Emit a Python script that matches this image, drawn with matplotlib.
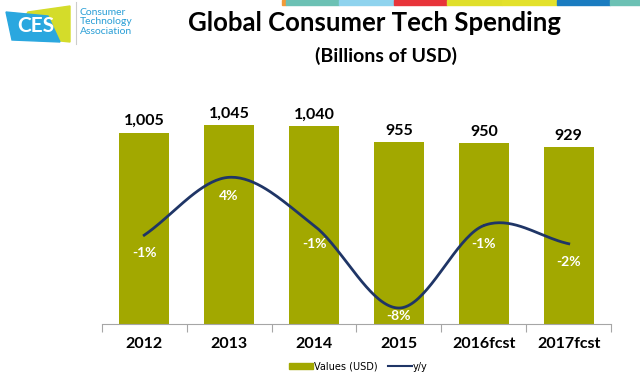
import numpy as np
import matplotlib
matplotlib.use("Agg")
import matplotlib.pyplot as plt
from matplotlib.patches import Polygon, Rectangle
from matplotlib.lines import Line2D
from matplotlib.patches import Patch

years = ["2012", "2013", "2014", "2015", "2016fcst", "2017fcst"]
values = [1005, 1045, 1040, 955, 950, 929]
value_labels = ["1,005", "1,045", "1,040", "955", "950", "929"]
yoy = [-1.4, 4.0, -0.5, -8.2, -0.5, -2.2]
yoy_labels = ["-1%", "4%", "-1%", "-8%", "-1%", "-2%"]

BAR = "#a2a800"
LINE = "#1f3566"
FONT = "Lato"


def smooth(xs, ys, n=40):
    # catmull-rom style smoothing like excel's smoothed line
    xs = np.asarray(xs, float)
    ys = np.asarray(ys, float)
    px = np.concatenate([[2 * xs[0] - xs[1]], xs, [2 * xs[-1] - xs[-2]]])
    py = np.concatenate([[2 * ys[0] - ys[1]], ys, [2 * ys[-1] - ys[-2]]])
    ox, oy = [], []
    t = np.linspace(0, 1, n)
    for i in range(1, len(px) - 2):
        p0, p1, p2, p3 = px[i - 1], px[i], px[i + 1], px[i + 2]
        q0, q1, q2, q3 = py[i - 1], py[i], py[i + 1], py[i + 2]
        for a, b, c, d, out in ((p0, p1, p2, p3, ox), (q0, q1, q2, q3, oy)):
            out.extend(0.5 * (2 * b + (-a + c) * t + (2 * a - 5 * b + 4 * c - d) * t ** 2
                              + (-a + 3 * b - 3 * c + d) * t ** 3))
    return np.array(ox), np.array(oy)


fig = plt.figure(figsize=(6.4, 3.76), dpi=100)
ax = fig.add_axes([0.159, 0.138, 0.796, 0.607])
x = np.arange(len(years))
ax.bar(x, values, width=0.59, color=BAR, zorder=2)
ax.set_xlim(-0.5, len(years) - 0.5)
ax.set_ylim(0, 1200)
for xi, v, lab in zip(x, values, value_labels):
    ax.text(xi, v + 25, lab, ha="center", va="bottom", fontsize=11.5,
            fontweight="bold", family=FONT)

for s in ["top", "right", "left"]:
    ax.spines[s].set_visible(False)
ax.spines["bottom"].set_color("#a6a6a6")
ax.set_yticks([])
ax.set_xticks(np.arange(-0.5, len(years), 1.0))
ax.set_xticklabels([])
ax.tick_params(axis="x", length=6, color="#a6a6a6")
for xi, lab in zip(x, years):
    ax.text(xi, -0.085, lab, transform=ax.get_xaxis_transform(), ha="center",
            va="center", fontsize=11.5, fontweight="bold", family=FONT)

ax2 = ax.twinx()
ax2.set_ylim(-9.7, 11.6)
ax2.set_yticks([])
for s in ax2.spines.values():
    s.set_visible(False)
sx, sy = smooth(x, yoy)
ax2.plot(sx, sy, color=LINE, lw=2, zorder=3)
for xi, v, lab in zip(x, yoy, yoy_labels):
    ax2.text(xi, max(v - 1.7, -8.9), lab, ha="center", va="center", color="white",
             fontsize=10, fontweight="bold", family=FONT)

handles = [Patch(color=BAR), Line2D([], [], color=LINE, lw=1.5)]
fig.legend(handles, ["Values (USD)", "y/y"], loc="center", bbox_to_anchor=(0.56, 0.025),
           ncol=2, frameon=False, handlelength=2.5, handleheight=0.6,
           columnspacing=1.0, handletextpad=0.1, prop={"family": "DejaVu Sans", "size": 7})

fig.text(0.585, 0.94, "Global Consumer Tech Spending", ha="center", va="center",
         fontsize=18.5, fontweight="bold", family=FONT)
fig.text(0.603, 0.852, "(Billions of USD)", ha="center", va="center",
         fontsize=14, fontweight="bold", family=FONT)

# colour strip along the top edge
strip = [(282, 286, "#f29b38"), (286, 339, "#6cc1b4"), (339, 394, "#8fd3ee"),
         (394, 447, "#e8343a"), (447, 502, "#e0df2a"), (502, 557, "#e3e12b"),
         (557, 610, "#1a7cc0"), (610, 640, "#6cc1b4")]
for a, b, c in strip:
    fig.patches.append(Rectangle((a / 640, 1 - 5 / 376), (b - a) / 640, 5 / 376,
                                 transform=fig.transFigure, color=c))

# CES logo
def fp(px, py):
    return (px / 640, 1 - py / 376)

fig.patches.append(Polygon([fp(28, 12), fp(70, 6), fp(70, 42), fp(12, 36)],
                           closed=True, transform=fig.transFigure, color="#d4dc2a"))
fig.patches.append(Polygon([fp(6, 12), fp(48, 16), fp(60, 42), fp(12, 40)],
                           closed=True, transform=fig.transFigure, color="#2aa7df"))
fig.text(36 / 640, 1 - 26 / 376, "CES", ha="center", va="center", color="white",
         fontsize=15, fontweight="bold", family=FONT)
fig.lines.append(Line2D([76 / 640, 76 / 640], [1 - 2 / 376, 1 - 44 / 376],
                        transform=fig.transFigure, color="#cccccc", lw=0.8))
fig.text(80 / 640, 1 - 22 / 376, "Consumer\nTechnology\nAssociation", ha="left",
         va="center", color="#2a9fd6", fontsize=7.5, linespacing=1.05, family=FONT)

fig.savefig("out.png", dpi=100)
